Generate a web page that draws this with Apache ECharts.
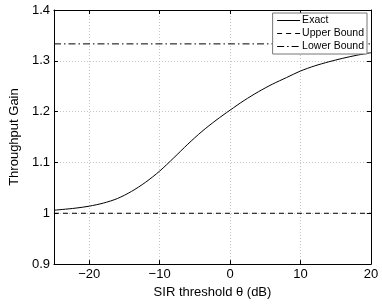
<!DOCTYPE html>
<html><head><meta charset="utf-8">
<script src="https://cdn.jsdelivr.net/npm/echarts@6/dist/echarts.min.js"></script>
<style>html,body{margin:0;padding:0;background:#fff}#c{width:382px;height:304px}</style>
</head><body><div id="c"></div>
<script>
var thetaDb = [-25, -22, -20, -18, -16, -14, -12, -10, -8, -6, -4, -2, 0, 2, 4, 6, 8, 10, 12, 14, 16, 18, 20];
var exactGain = [1.006, 1.010, 1.014, 1.020, 1.029, 1.043, 1.061, 1.083, 1.109, 1.136, 1.161, 1.183, 1.203, 1.222, 1.239, 1.254, 1.267, 1.280, 1.290, 1.298, 1.305, 1.311, 1.316];
var upperBound = 1.0;
var lowerBound = 4 / 3;
var xTicks = [-20, -10, 0, 10, 20];
var xRange = [-25, 20];

var font = 'Liberation Sans, Arial, Helvetica, sans-serif';
var chart = echarts.init(document.getElementById('c'));
function pairs(xs, ys) { return xs.map(function (x, i) { return [x, ys[i]]; }); }
chart.setOption({
  animation: false,
  backgroundColor: '#fff',
  grid: { left: 42, right: 11, top: 10, bottom: 32 },
  legend: {
    orient: 'vertical', right: 15, top: 13,
    backgroundColor: '#fff', borderColor: '#777', borderWidth: 1,
    padding: [2, 3, 2, 4], itemGap: 2, itemWidth: 23, itemHeight: 10.5,
    itemStyle: { opacity: 0 },
    lineStyle: { width: 1 },
    textStyle: { fontFamily: font, fontSize: 10.5, color: '#000', padding: [0, 0, 0, -3] },
    data: ['Exact', 'Upper Bound', 'Lower Bound']
  },
  xAxis: [{
    type: 'value', min: xRange[0], max: xRange[1],
    name: 'SIR threshold θ (dB)', nameLocation: 'middle', nameGap: 16,
    nameTextStyle: { fontFamily: font, fontSize: 13, color: '#000' },
    axisLine: { show: true, onZero: false, lineStyle: { color: '#000', width: 1 } },
    axisTick: { show: true, inside: true, length: 4, customValues: xTicks, lineStyle: { color: '#000' } },
    axisLabel: { customValues: xTicks, fontFamily: font, fontSize: 13, color: '#000', margin: 4,
      formatter: function (v) { return v < 0 ? '\u2212' + Math.abs(v) : String(v); } },
    splitLine: { show: true, lineStyle: { color: '#c4c4c4', type: [1, 2], width: 1 } }
  }, {
    type: 'value', position: 'top', min: xRange[0], max: xRange[1],
    axisLine: { show: true, onZero: false, lineStyle: { color: '#000' } },
    axisTick: { show: true, inside: true, length: 4, customValues: xTicks, lineStyle: { color: '#000' } },
    axisLabel: { show: false }, splitLine: { show: false }
  }],
  yAxis: [{
    type: 'value', min: 0.9, max: 1.4, interval: 0.1,
    name: 'Throughput Gain', nameLocation: 'middle', nameGap: 24,
    nameTextStyle: { fontFamily: font, fontSize: 13, color: '#000' },
    axisLine: { show: true, onZero: false, lineStyle: { color: '#000', width: 1 } },
    axisTick: { show: true, inside: true, length: 4, lineStyle: { color: '#000' } },
    axisLabel: { fontFamily: font, fontSize: 13, color: '#000', margin: 4,
      formatter: function (v) { return String(Math.round(v * 10) / 10); } },
    splitLine: { show: true, lineStyle: { color: '#c4c4c4', type: [1, 2], width: 1 } }
  }, {
    type: 'value', position: 'right', min: 0.9, max: 1.4, interval: 0.1,
    axisLine: { show: true, onZero: false, lineStyle: { color: '#000' } },
    axisTick: { show: true, inside: true, length: 4, lineStyle: { color: '#000' } },
    axisLabel: { show: false }, splitLine: { show: false }
  }],
  series: [{
    name: 'Exact', type: 'line', smooth: 0.3, symbol: 'none',
    lineStyle: { color: '#000', width: 1 }, itemStyle: { color: '#000' },
    data: pairs(thetaDb, exactGain)
  }, {
    name: 'Upper Bound', type: 'line', symbol: 'none',
    lineStyle: { color: '#000', width: 1, type: [5, 4] }, itemStyle: { color: '#000' },
    data: [[xRange[0], upperBound], [xRange[1], upperBound]]
  }, {
    name: 'Lower Bound', type: 'line', symbol: 'none',
    lineStyle: { color: '#000', width: 1, type: [7, 3, 1.5, 3] }, itemStyle: { color: '#000' },
    data: [[xRange[0], lowerBound], [xRange[1], lowerBound]]
  }]
});
</script></body></html>
